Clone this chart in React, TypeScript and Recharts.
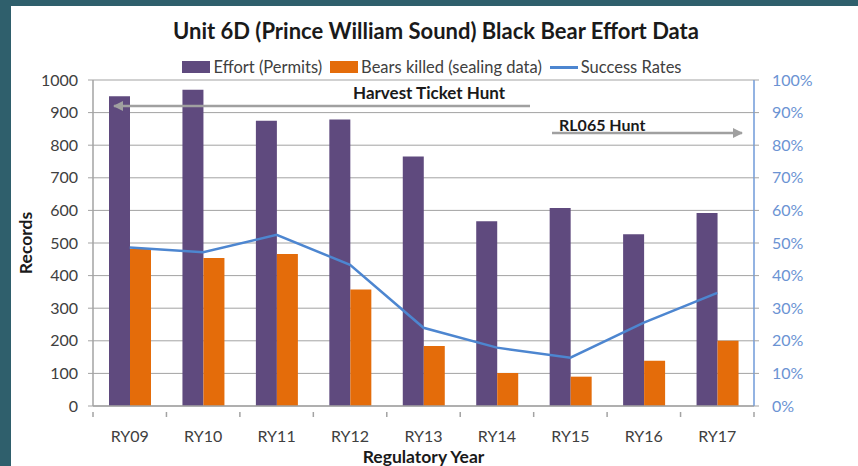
import React from "react";
import {
  ComposedChart,
  Bar,
  Line,
  XAxis,
  YAxis,
  CartesianGrid,
  Legend,
} from "recharts";

// Regulatory years and values
const years = ["RY09", "RY10", "RY11", "RY12", "RY13", "RY14", "RY15", "RY16", "RY17"];
const effortPermits = [950, 970, 875, 879, 765, 567, 607, 527, 592];
const bearsKilled = [482, 454, 466, 357, 184, 101, 90, 139, 200];
const successRates = [0.486, 0.472, 0.525, 0.433, 0.24, 0.179, 0.148, 0.256, 0.347];

const leftTicks = [0, 100, 200, 300, 400, 500, 600, 700, 800, 900, 1000];
const rightTicks = [0, 0.1, 0.2, 0.3, 0.4, 0.5, 0.6, 0.7, 0.8, 0.9, 1];
const legendOrder = ["Effort (Permits)", "Bears killed (sealing data)", "Success Rates"];

const PURPLE = "#5f4a7e";
const ORANGE = "#e46c0a";
const BLUE = "#4d86d0";
const GRID = "#a3a3a3";
const FONT = "Lato, 'Noto Sans', sans-serif";

const rows = years.map((year, i) => ({
  year,
  effort: effortPermits[i],
  bears: bearsKilled[i],
  rate: successRates[i],
}));

// Excel puts the category tick marks between the categories, so the tick
// is drawn half a band to the left of each label (plus one after the last)
function YearTick(props: any) {
  const { x, y, payload, index, visibleTicksCount } = props;
  const half = payload?.offset ?? 0;
  const axisY = y - 19;
  return (
    <g>
      <line x1={x - half} x2={x - half} y1={axisY} y2={axisY + 5} stroke={GRID} strokeWidth={1.5} />
      {index === (visibleTicksCount ?? years.length) - 1 && (
        <line x1={x + half} x2={x + half} y1={axisY} y2={axisY + 5} stroke={GRID} strokeWidth={1.5} />
      )}
      <text x={x} y={y} dy="0.71em" textAnchor="middle" fontSize={16} fill="#404040" fontFamily={FONT}>
        {payload?.value}
      </text>
    </g>
  );
}

function LegendRow({ payload }: any) {
  const items = [...(payload ?? [])].sort(
    (a: any, b: any) => legendOrder.indexOf(a.value) - legendOrder.indexOf(b.value)
  );
  return (
    <div
      style={{
        display: "flex",
        justifyContent: "center",
        alignItems: "center",
        fontFamily: FONT,
        fontSize: 16.5,
        color: "#404040",
        paddingLeft: 14,
      }}
    >
      {items.map((entry: any) => (
        <span key={entry.value} style={{ display: "flex", alignItems: "center", marginRight: 8 }}>
          {entry.type === "line" ? (
            <span style={{ width: 28, height: 3, background: entry.color, marginRight: 3 }} />
          ) : (
            <span style={{ width: 28, height: 12, background: entry.color, marginRight: 3 }} />
          )}
          {entry.value}
        </span>
      ))}
    </div>
  );
}

export default function App() {
  return (
    <div
      style={{
        position: "absolute",
        left: 0,
        top: 0,
        width: 858,
        height: 466,
        background: "#2f5f6c",
        overflow: "hidden",
        fontFamily: FONT,
      }}
    >
      <div
        style={{
          position: "absolute",
          left: 11,
          top: 6,
          width: 847,
          height: 460,
          background: "#ffffff",
        }}
      />
      <div
        style={{
          position: "absolute",
          left: 0,
          top: 17,
          width: 872,
          textAlign: "center",
          fontSize: 22,
          fontWeight: 700,
          color: "#1a1a1a",
        }}
      >
        Unit 6D (Prince William Sound) Black Bear Effort Data
      </div>
      <div style={{ position: "absolute", left: 0, top: 0 }}>
        <ComposedChart
          width={858}
          height={466}
          data={rows}
          margin={{ top: 80, right: 0, bottom: 0, left: 0 }}
          barGap={0}
          barSize={21}
        >
          <CartesianGrid vertical={false} stroke={GRID} yAxisId="left" />
          <XAxis
            dataKey="year"
            height={60}
            interval={0}
            axisLine={{ stroke: GRID, strokeWidth: 1.5 }}
            tickLine={false}
            tickMargin={19}
            tick={<YearTick />}
            label={{
              value: "Regulatory Year",
              position: "insideBottom",
              offset: 3,
              style: { fontSize: 17.5, fontWeight: 700, fill: "#1a1a1a", fontFamily: FONT },
            }}
          />
          <YAxis
            yAxisId="left"
            width={93}
            domain={[0, 1000]}
            ticks={leftTicks}
            interval={0}
            stroke={GRID}
            tickSize={5}
            tickMargin={10}
            axisLine={{ stroke: GRID, strokeWidth: 1.5 }}
            tick={{ fontSize: 16, fill: "#404040", fontFamily: FONT }}
            label={{
              value: "Records",
              angle: -90,
              position: "insideLeft",
              offset: 26,
              style: { fontSize: 17.5, fontWeight: 700, fill: "#1a1a1a", fontFamily: FONT, textAnchor: "middle" },
            }}
          />
          <YAxis
            yAxisId="right"
            orientation="right"
            width={104}
            domain={[0, 1]}
            ticks={rightTicks}
            interval={0}
            stroke={BLUE}
            tickSize={5}
            tickMargin={13}
            axisLine={{ stroke: "#6f9ad8", strokeWidth: 1.5 }}
            tickLine={{ stroke: GRID }}
            tickFormatter={(v: number) => `${Math.round(v * 100)}%`}
            tick={{ fontSize: 16, fill: "#6b93d3", fontFamily: FONT, textAnchor: "start" }}
          />
          <Legend
            verticalAlign="middle"
            align="center"
            wrapperStyle={{ top: 57, left: 0, width: 858 }}
            content={<LegendRow />}
          />
          <Bar
            yAxisId="left"
            dataKey="effort"
            name="Effort (Permits)"
            fill={PURPLE}
            isAnimationActive={false}
          />
          <Bar
            yAxisId="left"
            dataKey="bears"
            name="Bears killed (sealing data)"
            fill={ORANGE}
            isAnimationActive={false}
          />
          <Line
            yAxisId="right"
            dataKey="rate"
            name="Success Rates"
            type="linear"
            stroke={BLUE}
            strokeWidth={2.5}
            dot={false}
            activeDot={false}
            legendType="line"
            isAnimationActive={false}
          />
        </ComposedChart>
      </div>
      {/* hunt annotations */}
      <svg
        width={858}
        height={466}
        style={{ position: "absolute", left: 0, top: 0, pointerEvents: "none" }}
      >
        <defs>
          <marker id="ah" viewBox="0 0 10 10" refX="9" refY="5" markerWidth="4" markerHeight="4" orient="auto">
            <path d="M0,0 L10,5 L0,10 z" fill="#a0a0a0" />
          </marker>
        </defs>
        <line x1={530} y1={106} x2={114} y2={106} stroke="#a0a0a0" strokeWidth={2.5} markerEnd="url(#ah)" />
        <line x1={552} y1={133} x2={742} y2={133} stroke="#a0a0a0" strokeWidth={2.5} markerEnd="url(#ah)" />
        <text x={353} y={99} fontSize={17} fontWeight={700} fill="#1a1a1a" fontFamily={FONT}>
          Harvest Ticket Hunt
        </text>
        <text x={559} y={131} fontSize={16} fontWeight={700} fill="#1a1a1a" fontFamily={FONT}>
          RL065 Hunt
        </text>
      </svg>
    </div>
  );
}
